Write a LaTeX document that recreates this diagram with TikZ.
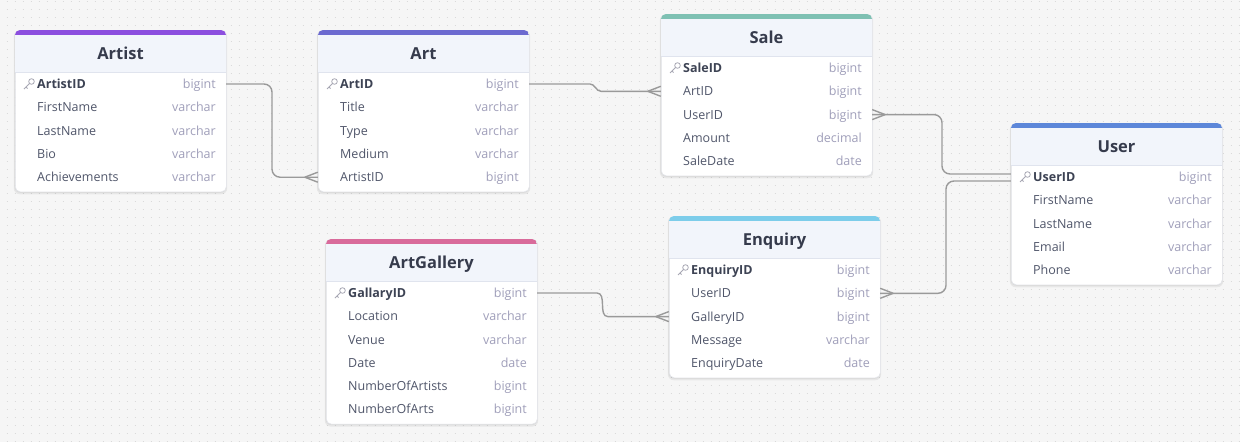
\documentclass[tikz,border=0pt]{standalone}
\usepackage{fontspec}
\setmainfont{Open Sans}
\definecolor{bgc}{HTML}{F6F6F6}
\definecolor{dotc}{HTML}{DADADA}
\definecolor{cardb}{HTML}{E3E5EA}
\definecolor{hdrc}{HTML}{F2F5FB}
\definecolor{sepc}{HTML}{E0E4EE}
\definecolor{titlec}{HTML}{363B4C}
\definecolor{fieldc}{HTML}{50566A}
\definecolor{keyfc}{HTML}{3D4354}
\definecolor{typec}{HTML}{A09FBA}
\definecolor{keyc}{HTML}{A8A8B4}
\definecolor{connc}{HTML}{9A9A9A}
\definecolor{cArtist}{HTML}{8C4FDF}
\definecolor{cArt}{HTML}{6C6AD0}
\definecolor{cSale}{HTML}{7FC1B3}
\definecolor{cUser}{HTML}{5D87D9}
\definecolor{cEnq}{HTML}{7DCDEA}
\definecolor{cGal}{HTML}{D96B9B}
\tikzset{
 conn/.style={draw=connc, line width=1.4pt},
 rowbox/.style={minimum width=211pt, minimum height=23.3pt, inner sep=0pt},
 titlef/.style={font=\fontsize{16.5}{18}\selectfont\bfseries, text=titlec, inner sep=0pt},
 fieldf/.style={font=\fontsize{12.5}{14}\selectfont, text=fieldc, inner sep=0pt},
 keyf/.style={font=\fontsize{12.5}{14}\selectfont\bfseries, text=keyfc, inner sep=0pt},
 typef/.style={font=\fontsize{12.5}{14}\selectfont, text=typec, inner sep=0pt},
}
\newcommand\erdtab[7]{%
 \pgfmathsetmacro\tabH{45+#4*23.3}%
 \pgfmathsetmacro\tabC{#2+105.5}%
 \pgfmathsetmacro\tabR{#2+201}%
 \fill[black,opacity=0.06,rounded corners=6pt] (#2-1.2,#3+0.5) rectangle (#2+212.2,#3+\tabH+2.8);
 \fill[black,opacity=0.05,rounded corners=6pt] (#2-0.6,#3) rectangle (#2+211.6,#3+\tabH+1.3);
 \node[draw=cardb, fill=white, rounded corners=5pt, minimum width=211pt, minimum height=\tabH pt, anchor=north west, inner sep=0pt, line width=0.6pt] (#1) at (#2,#3) {};
 \begin{scope}
 \clip[rounded corners=5pt] (#2,#3) rectangle ++(211,\tabH);
 \fill[hdrc] (#2,#3) rectangle ++(211,42);
 \fill[#5] (#2,#3) rectangle ++(211,4.5);
 \end{scope}
 \draw[sepc, line width=0.8pt] (#2,#3+42) -- ++(211,0);
 \node[titlef, anchor=base] (#1-title) at (\tabC,#3+29) {#6};
 \foreach \nm/\ty [count=\i] in {#7} {
   \pgfmathsetmacro\ry{#3+54+(\i-1)*23.3}
   \node[rowbox] (#1-\i) at (\tabC,\ry) {};
   \ifnum\i=1
     \node[keyf, anchor=base west] (#1-\i-n) at (#2+22,\ry+4.4) {\nm};
     \draw[keyc, line width=0.8pt] (#2+16.5,\ry-2.5) circle[radius=2.8pt] (#2+14.5,\ry-0.5) -- (#2+9,\ry+5) (#2+11,\ry+3) -- (#2+12.5,\ry+4.5);
   \else
     \node[fieldf, anchor=base west] (#1-\i-n) at (#2+22,\ry+4.4) {\nm};
   \fi
   \node[typef, anchor=base east] (#1-\i-t) at (\tabR,\ry+4.4) {\ty};
 }
}
\newcommand\crowL[1]{\draw[conn] (#1) ++(-13,0) -- ++(13,-5) ++(-13,5) -- ++(13,5);}
\newcommand\crowR[1]{\draw[conn] (#1) ++(13,0) -- ++(-13,-5) ++(13,5) -- ++(-13,5);}
\begin{document}
\begin{tikzpicture}[x=1pt,y=-1pt]
\useasboundingbox (0,0) rectangle (1240,442);
\fill[bgc] (0,0) rectangle (1240,442);
\foreach \yy in {1,9,...,441} \draw[dotc, line width=1pt, dash pattern=on 1pt off 7pt] (6.5,\yy) -- (1240,\yy);

\erdtab{Artist}{15}{30}{5}{cArtist}{Artist}{ArtistID/bigint, FirstName/varchar, LastName/varchar, Bio/varchar, Achievements/varchar}
\erdtab{Art}{318}{30}{5}{cArt}{Art}{ArtID/bigint, Title/varchar, Type/varchar, Medium/varchar, ArtistID/bigint}
\erdtab{Sale}{661}{14}{5}{cSale}{Sale}{SaleID/bigint, ArtID/bigint, UserID/bigint, Amount/decimal, SaleDate/date}
\erdtab{User}{1011}{123}{5}{cUser}{User}{UserID/bigint, FirstName/varchar, LastName/varchar, Email/varchar, Phone/varchar}
\erdtab{Enquiry}{669}{216}{5}{cEnq}{Enquiry}{EnquiryID/bigint, UserID/bigint, GalleryID/bigint, Message/varchar, EnquiryDate/date}
\erdtab{ArtGallery}{326}{239}{6}{cGal}{ArtGallery}{GallaryID/bigint, Location/varchar, Venue/varchar, Date/date, NumberOfArtists/bigint, NumberOfArts/bigint}

\coordinate (j1) at (272,0);
\coordinate (j2a) at (590,0);
\coordinate (j2b) at (601,0);
\coordinate (j3) at (942,0);
\coordinate (j4) at (946,0);
\coordinate (j5a) at (597,0);
\coordinate (j5b) at (608,0);

\draw[conn, rounded corners=8pt] (Artist-1.east) -- (Artist-1.east -| j1) |- (Art-5.west);
\draw[conn] (Art-1.east) -- (Art-1.east -| j2a) to[out=0,in=180] (Sale-2.west -| j2b) -- (Sale-2.west);
\draw[conn, rounded corners=8pt] (Sale-3.east) -- (Sale-3.east -| j3) |- ([yshift=3pt]User-1.west);
\draw[conn, rounded corners=8pt] ([yshift=-4pt]User-1.west) -- ([yshift=-4pt]User-1.west -| j4) |- (Enquiry-2.east);
\draw[conn] (ArtGallery-1.east) -- (ArtGallery-1.east -| j5a) to[out=0,in=180] (Enquiry-3.west -| j5b) -- (Enquiry-3.west);

\crowL{Art-5.west}
\crowL{Sale-2.west}
\crowR{Sale-3.east}
\crowR{Enquiry-2.east}
\crowL{Enquiry-3.west}
\end{tikzpicture}
\end{document}
